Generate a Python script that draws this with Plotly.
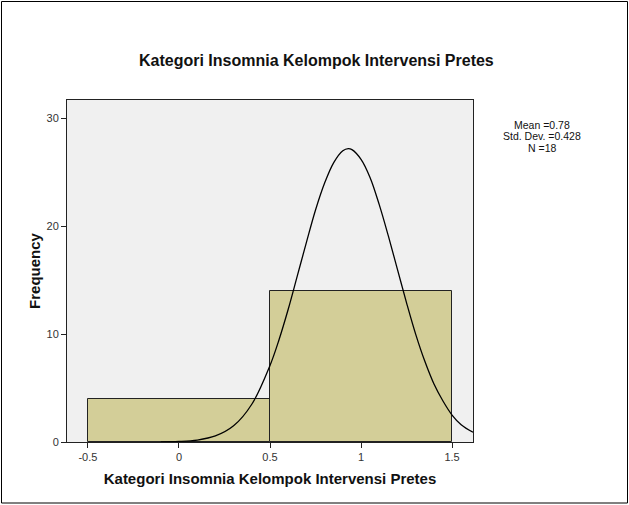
import plotly.graph_objects as go

# histogram bins
bin_centers = [0, 1]
bin_counts = [4, 14]

# normal curve as drawn
curve_x = [-0.1, 0.0, 0.1, 0.2, 0.3, 0.4, 0.5, 0.55, 0.6, 0.65,
           0.7, 0.75, 0.8, 0.85, 0.9, 0.93, 0.95, 1.0, 1.05, 1.1, 1.15, 1.2, 1.25,
           1.3, 1.35, 1.4, 1.45, 1.5, 1.55, 1.615]
curve_y = [0.01, 0.05, 0.18, 0.56, 1.5, 3.5, 7.1, 9.5, 12.3, 15.4,
           18.5, 21.5, 24.0, 25.9, 27.0, 27.2, 27.1, 26.2, 24.5, 22.0, 19.1, 16.0, 12.9,
           10.0, 7.5, 5.4, 3.8, 2.5, 1.6, 0.9]

x_ticks = [-0.5, 0, 0.5, 1, 1.5]
x_tick_labels = ["-0.5", "0", "0.5", "1", "1.5"]
y_ticks = [0, 10, 20, 30]

title = "Kategori Insomnia Kelompok Intervensi Pretes"
x_title = "Kategori Insomnia Kelompok Intervensi Pretes"
y_title = "Frequency"
stats = ["Mean =0.78", "Std. Dev. =0.428", "N =18"]

font = "Arial, Liberation Sans, sans-serif"

fig = go.Figure()

fig.add_trace(
    go.Bar(
        x=bin_centers,
        y=bin_counts,
        width=1,
        marker={"color": "#d3ce98", "line": {"color": "#222222", "width": 1}},
        showlegend=False,
    )
)

fig.add_trace(
    go.Scatter(
        x=curve_x,
        y=curve_y,
        mode="lines",
        line={"color": "black", "width": 1.3, "shape": "spline", "smoothing": 1},
        showlegend=False,
    )
)

fig.update_layout(
    width=629,
    height=505,
    margin={"l": 67, "r": 156, "t": 100, "b": 63},
    paper_bgcolor="white",
    plot_bgcolor="#f0f0f0",
    bargap=0,
    font={"family": font, "size": 11, "color": "#333333"},
    xaxis={
        "range": [-0.615, 1.615],
        "tickvals": x_ticks,
        "ticktext": x_tick_labels,
        "ticks": "outside",
        "ticklen": 5,
        "tickcolor": "#222222",
        "showgrid": False,
        "zeroline": False,
        "showline": True,
        "linecolor": "#222222",
        "linewidth": 1,
        "mirror": True,
        "title": {
            "text": f"<b>{x_title}</b>",
            "font": {"size": 15, "color": "#111111"},
            "standoff": 11,
        },
    },
    yaxis={
        "range": [0, 31.7],
        "tickvals": y_ticks,
        "ticks": "outside",
        "ticklen": 5,
        "tickcolor": "#222222",
        "showgrid": False,
        "zeroline": False,
        "showline": True,
        "linecolor": "#222222",
        "linewidth": 1,
        "mirror": True,
        "title": {
            "text": f"<b>{y_title}</b>",
            "font": {"size": 15, "color": "#111111"},
            "standoff": 2,
        },
    },
)

# chart title
fig.add_annotation(
    text=f"<b>{title}</b>",
    xref="paper", yref="paper",
    x=(316 - 67) / 406, y=(442 - 60) / 342,
    xanchor="center", yanchor="middle",
    showarrow=False,
    font={"size": 16, "color": "#111111"},
)

# stats box
for i, s in enumerate(stats):
    fig.add_annotation(
        text=s,
        xref="paper", yref="paper",
        x=(542 - 67) / 406, y=(442 - 125 - 11.3 * i) / 342,
        xanchor="center", yanchor="middle",
        showarrow=False,
        font={"size": 10.5, "color": "#111111"},
    )

# outer frame
fig.add_shape(
    type="rect",
    xref="paper", yref="paper",
    x0=(1.5 - 67) / 406, x1=(627.5 - 67) / 406,
    y0=(442 - 503) / 342, y1=(442 - 1.5) / 342,
    line={"color": "black", "width": 1},
)

fig.write_html(
    "out.html",
    config={"displayModeBar": False},
    post_script="document.body.style.margin = '0';",
)
